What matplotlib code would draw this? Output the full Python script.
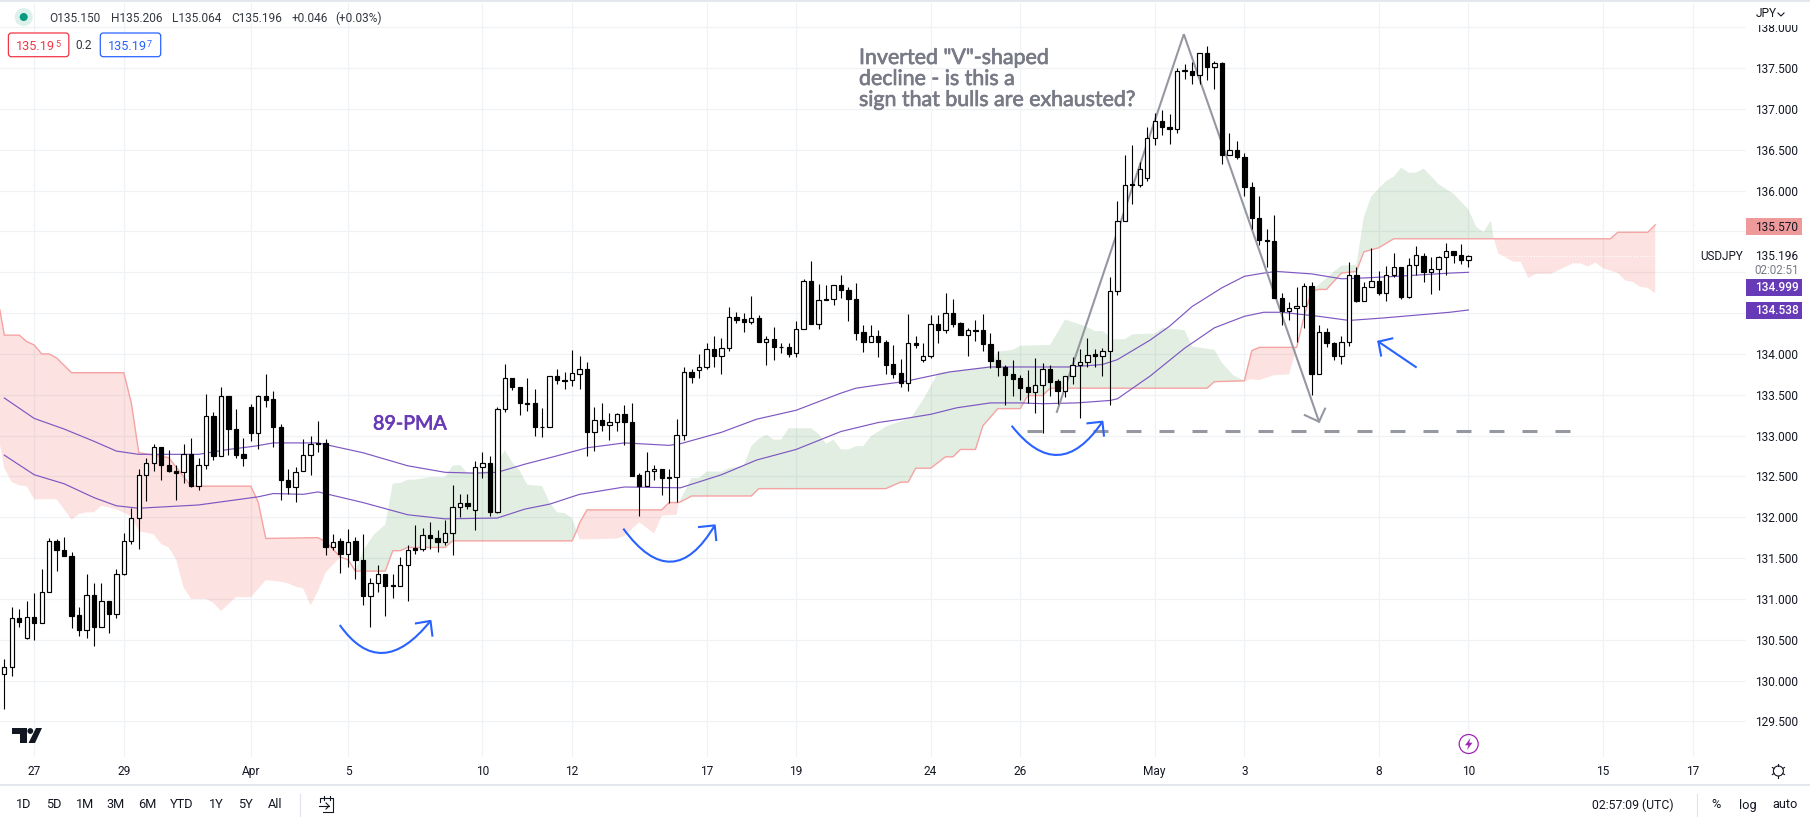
#!/usr/bin/env python3
# -*- coding: utf-8 -*-

import numpy as np
import matplotlib
matplotlib.use('Agg')
import matplotlib.pyplot as plt
import matplotlib.patheffects as pe
from matplotlib.patches import Circle, FancyBboxPatch, PathPatch, Polygon, Rectangle
from matplotlib.path import Path

# 4h candles, one entry per bar
opens = [130.08, 130.17, 130.77, 130.52, 130.78, 130.71, 131.08, 131.71, 131.60, 131.53,
         130.80, 130.62, 131.05, 130.66, 130.97, 130.82, 131.30, 131.71, 131.99, 132.52,
         132.66, 132.86, 132.64, 132.57, 132.55, 132.77, 132.38, 132.64, 133.24, 132.75,
         133.49, 133.08, 132.77, 133.35, 133.03, 133.48, 133.45, 133.11, 132.46, 132.37,
         132.56, 132.76, 132.91, 132.91, 131.63, 131.71, 131.55, 131.71, 131.47, 131.03,
         131.19, 131.31, 131.17, 131.16, 131.42, 131.62, 131.61, 131.78, 131.75, 131.70,
         131.81, 132.13, 132.17, 132.09, 132.61, 132.67, 132.07, 133.33, 133.70, 133.59,
         133.40, 133.40, 133.11, 133.10, 133.73, 133.68, 133.68, 133.75, 133.82, 133.04,
         133.19, 133.13, 133.16, 133.27, 133.17, 132.52, 132.38, 132.56, 132.59, 132.49,
         132.49, 133.01, 133.78, 133.80, 133.84, 134.06, 133.97, 134.07, 134.45, 134.43,
         134.39, 134.44, 134.14, 134.18, 134.09, 134.08, 134.01, 134.31, 134.89, 134.37,
         134.67, 134.67, 134.84, 134.78, 134.67, 134.27, 134.15, 134.22, 134.15, 133.88,
         133.77, 133.64, 134.13, 133.92, 133.97, 134.37, 134.29, 134.50, 134.38, 134.23,
         134.29, 134.29, 134.12, 133.92, 133.84, 133.75, 133.70, 133.59, 133.53, 133.62,
         133.82, 133.67, 133.54, 133.73, 133.87, 133.90, 134.00, 133.97, 134.04, 134.77,
         135.63, 136.08, 136.07, 136.16, 136.65, 136.85, 136.78, 136.75, 137.47, 137.47,
         137.42, 137.68, 137.51, 137.56, 136.44, 136.50, 136.41, 136.05, 135.66, 135.39,
         135.38, 134.68, 134.52, 134.56, 134.59, 134.83, 133.75, 134.27, 134.13, 133.97,
         134.14, 134.97, 134.65, 134.82, 134.89, 134.74, 134.97, 135.06, 134.70, 135.09,
         135.20, 135.00, 135.04, 135.19, 135.26, 135.21, 135.150]
closes = [130.17, 130.77, 130.72, 130.78, 130.71, 131.08, 131.71, 131.60, 131.53, 130.79,
          130.62, 131.05, 130.66, 130.97, 130.82, 131.31, 131.71, 131.99, 132.52, 132.66,
          132.86, 132.64, 132.57, 132.54, 132.77, 132.38, 132.64, 133.24, 132.75, 133.49,
          133.08, 132.76, 132.72, 133.03, 133.48, 133.44, 133.10, 132.46, 132.37, 132.55,
          132.76, 132.90, 132.90, 131.63, 131.70, 131.55, 131.70, 131.47, 131.03, 131.19,
          131.31, 131.16, 131.16, 131.42, 131.60, 131.60, 131.78, 131.75, 131.70, 131.81,
          132.13, 132.17, 132.14, 132.61, 132.67, 132.07, 133.33, 133.70, 133.59, 133.40,
          133.39, 133.10, 133.10, 133.73, 133.68, 133.67, 133.77, 133.81, 133.04, 133.19,
          133.13, 133.17, 133.27, 133.16, 132.51, 132.38, 132.56, 132.59, 132.48, 132.48,
          133.01, 133.78, 133.72, 133.84, 134.06, 133.97, 134.07, 134.45, 134.42, 134.39,
          134.44, 134.14, 134.18, 134.09, 134.08, 134.00, 134.31, 134.89, 134.37, 134.66,
          134.66, 134.84, 134.78, 134.67, 134.26, 134.15, 134.22, 134.14, 133.87, 133.76,
          133.64, 134.13, 134.11, 133.97, 134.37, 134.29, 134.50, 134.37, 134.23, 134.29,
          134.28, 134.12, 133.91, 133.84, 133.74, 133.69, 133.58, 133.53, 133.62, 133.82,
          133.66, 133.54, 133.73, 133.87, 133.90, 133.99, 133.97, 134.04, 134.77, 135.63,
          136.07, 136.07, 136.27, 136.65, 136.85, 136.78, 136.75, 137.47, 137.48, 137.42,
          137.68, 137.51, 137.56, 136.44, 136.50, 136.41, 136.05, 135.66, 135.39, 135.38,
          134.68, 134.52, 134.56, 134.59, 134.83, 133.75, 134.27, 134.13, 133.97, 134.14,
          134.97, 134.65, 134.82, 134.89, 134.74, 134.97, 135.06, 134.70, 135.09, 135.21,
          135.00, 135.04, 135.19, 135.26, 135.21, 135.15, 135.196]
highs = [130.26, 130.90, 130.87, 130.98, 131.07, 131.37, 131.75, 131.73, 131.76, 131.57,
         130.90, 131.30, 131.19, 131.19, 130.97, 131.36, 131.81, 132.11, 132.59, 132.73,
         132.90, 132.86, 132.82, 132.64, 132.90, 132.97, 132.73, 133.51, 133.29, 133.60,
         133.49, 133.32, 132.97, 133.39, 133.50, 133.76, 133.54, 133.14, 132.59, 132.61,
         132.96, 132.99, 133.18, 132.96, 131.79, 131.74, 131.85, 131.76, 131.79, 131.25,
         131.42, 131.31, 131.30, 131.51, 131.66, 131.91, 131.87, 131.94, 131.84, 131.96,
         132.39, 132.29, 132.28, 132.69, 132.80, 132.75, 133.35, 133.88, 133.70, 133.59,
         133.70, 133.57, 133.34, 133.73, 133.81, 133.78, 134.05, 133.97, 133.90, 133.35,
         133.40, 133.28, 133.28, 133.37, 133.40, 132.54, 132.80, 132.64, 132.59, 132.59,
         133.20, 133.84, 133.82, 134.00, 134.13, 134.22, 134.19, 134.58, 134.51, 134.50,
         134.71, 134.48, 134.22, 134.33, 134.13, 134.13, 134.40, 134.92, 135.14, 134.86,
         134.84, 134.85, 134.97, 134.82, 134.87, 134.35, 134.35, 134.29, 134.17, 134.11,
         133.94, 134.49, 134.22, 134.13, 134.48, 134.48, 134.74, 134.67, 134.39, 134.32,
         134.42, 134.49, 134.26, 134.04, 133.87, 133.92, 133.74, 133.80, 133.95, 133.89,
         133.86, 133.69, 133.73, 133.96, 134.06, 134.20, 134.06, 134.07, 134.94, 135.87,
         136.43, 136.56, 136.35, 136.78, 136.95, 136.99, 136.94, 137.50, 137.55, 137.58,
         137.69, 137.77, 137.59, 137.57, 136.70, 136.61, 136.46, 136.11, 135.94, 135.53,
         135.70, 134.74, 134.63, 134.82, 134.87, 134.88, 134.36, 134.32, 134.14, 134.22,
         135.12, 135.06, 134.88, 135.30, 135.01, 135.08, 135.23, 135.06, 135.17, 135.32,
         135.23, 135.19, 135.20, 135.36, 135.26, 135.34, 135.206]
lows = [129.65, 130.06, 130.66, 130.51, 130.50, 130.71, 131.08, 131.34, 131.53, 130.64,
        130.55, 130.52, 130.42, 130.66, 130.58, 130.77, 131.29, 131.67, 131.61, 132.20,
        132.57, 132.46, 132.55, 132.21, 132.42, 132.37, 132.33, 132.59, 132.70, 132.75,
        132.76, 132.72, 132.63, 132.93, 132.83, 133.35, 132.86, 132.21, 132.28, 132.19,
        132.56, 132.52, 132.80, 131.54, 131.60, 131.32, 131.39, 131.24, 130.92, 130.65,
        131.09, 130.79, 131.01, 131.16, 130.98, 131.55, 131.59, 131.61, 131.58, 131.66,
        131.54, 132.00, 132.10, 131.84, 132.48, 132.02, 132.05, 133.29, 133.56, 133.25,
        133.30, 133.00, 132.98, 133.10, 133.63, 133.57, 133.61, 133.57, 132.75, 132.81,
        133.05, 132.95, 133.05, 132.89, 132.50, 132.02, 132.38, 132.45, 132.27, 132.18,
        132.19, 132.95, 133.64, 133.71, 133.81, 133.84, 133.75, 134.03, 134.38, 134.27,
        134.37, 134.14, 133.87, 133.92, 134.01, 133.96, 133.96, 134.31, 134.37, 134.30,
        134.66, 134.60, 134.68, 134.40, 134.17, 134.02, 134.15, 133.96, 133.76, 133.70,
        133.60, 133.55, 134.07, 133.90, 133.95, 134.13, 134.25, 134.33, 134.23, 133.98,
        134.16, 134.03, 133.83, 133.73, 133.38, 133.49, 133.44, 133.40, 133.28, 133.03,
        133.48, 133.39, 133.47, 133.63, 133.21, 133.84, 133.84, 133.73, 133.38, 134.72,
        135.63, 135.84, 136.05, 136.12, 136.56, 136.68, 136.57, 136.71, 137.37, 137.30,
        137.31, 137.36, 137.25, 136.32, 136.43, 136.39, 135.93, 135.53, 135.33, 135.07,
        134.68, 134.35, 134.41, 134.15, 134.32, 133.50, 133.75, 134.08, 133.92, 133.88,
        134.10, 134.63, 134.65, 134.82, 134.72, 134.65, 134.94, 134.67, 134.69, 134.97,
        134.88, 134.73, 134.78, 134.97, 135.11, 135.10, 135.064]

# price scale and time scale (135.000 and 135.500 sit behind the value labels)
y_ticks = [129.5, 130.0, 130.5, 131.0, 131.5, 132.0, 132.5, 133.0, 133.5,
           134.0, 134.5, 135.0, 135.5, 136.0, 136.5, 137.0, 137.5, 138.0]
y_hidden_labels = [135.0, 135.5]
x_tick_bars = [4, 16, 33, 46, 64, 76, 94, 106, 124, 136, 154, 166, 184, 196, 214, 226]
x_tick_labels = ['27', '29', 'Apr', '5', '10', '12', '17', '19', '24', '26',
                 'May', '3', '8', '10', '15', '17']

# moving averages, read at the bars where they bend
ma_fast_x = [0, 4, 8, 12, 15, 18, 26, 30, 33.5, 36, 38.3, 42, 48, 54, 59, 63, 66, 69.7,
             73.5, 78, 83, 89, 90.5, 96, 100.7, 106, 112, 114, 117, 120.4, 124, 126.6,
             132, 138.2, 142.7, 147, 149, 153.4, 156, 159, 163, 166, 168.6, 170.3, 175,
             179, 182, 186.4, 193.5, 196]
ma_fast = [133.46, 133.21, 133.08, 132.93, 132.81, 132.77, 132.77, 132.83, 132.87, 132.91,
           132.91, 132.91, 132.79, 132.63, 132.55, 132.54, 132.55, 132.65, 132.74, 132.85,
           132.91, 132.88, 132.90, 133.04, 133.20, 133.31, 133.52, 133.58, 133.62, 133.66,
           133.73, 133.78, 133.84, 133.84, 133.84, 133.87, 133.93, 134.17, 134.34, 134.58,
           134.81, 134.95, 134.99, 135.01, 134.98, 134.92, 134.93, 134.95, 134.99, 134.999]
ma_slow_x = [0, 4, 8, 12, 15, 18, 26, 34, 36, 40, 42, 48, 54, 59, 66, 69.7, 73, 77, 83,
             90.5, 96, 100.7, 106, 109, 112, 117, 120, 124, 127.5, 132, 136, 139, 143.6,
             148, 149, 153.4, 158, 162, 166, 168.6, 171, 176, 180, 184.6, 193.5, 196]
ma_slow = [132.76, 132.52, 132.41, 132.24, 132.14, 132.11, 132.15, 132.25, 132.29, 132.28,
           132.31, 132.18, 132.03, 131.98, 131.99, 132.10, 132.16, 132.28, 132.37, 132.36,
           132.52, 132.70, 132.83, 132.94, 133.05, 133.16, 133.20, 133.26, 133.34, 133.40,
           133.40, 133.39, 133.40, 133.43, 133.45, 133.73, 134.07, 134.32, 134.46, 134.51,
           134.51, 134.46, 134.41, 134.44, 134.51, 134.538]

# ichimoku cloud edges
span_a_x = [-0.6, 0, 1, 2, 3, 4, 7, 9, 10, 11, 12, 13, 15, 17, 18, 20, 21, 22, 23, 24, 25,
            27, 28, 29, 31, 33, 35, 37, 38, 39, 40, 41, 42, 43, 44, 45, 46, 47, 48, 49.5,
            51, 52, 53, 54, 55, 57, 59, 60, 61, 62, 65, 66, 67, 68, 69, 70, 72, 73, 74,
            75, 76, 76.6, 77, 79, 82, 83, 85, 87, 88, 90, 90.3, 92, 93, 94, 96, 97, 99,
            100, 101, 102, 103, 104, 105, 108, 109, 110, 111, 112, 113, 114, 115, 116,
            118, 121.4, 123, 125, 127, 132, 133, 135, 136, 140, 142, 144.7, 146, 147,
            148.5, 150, 151, 154, 155, 158, 159, 162, 163, 164.5, 166, 167, 168, 170,
            172, 173, 174, 175, 175.7, 177, 178, 179, 181, 182, 183, 185, 186, 187, 188,
            189, 190, 192, 194, 196, 197, 198, 199, 199.4, 200, 202, 203, 204, 205, 207,
            210, 211, 212, 213, 214, 216, 217, 218, 219, 220, 221]
span_a = [132.90, 132.60, 132.43, 132.39, 132.38, 132.22, 132.22, 131.97, 132.04, 132.06,
          132.06, 132.14, 132.10, 132.01, 131.83, 131.79, 131.67, 131.63, 131.48, 131.14,
          131.00, 131.00, 130.95, 130.85, 131.02, 131.02, 131.23, 131.21, 131.19, 131.15,
          131.13, 130.92, 131.10, 131.32, 131.42, 131.51, 131.48, 131.34, 131.59, 131.79,
          131.91, 132.41, 132.42, 132.46, 132.46, 132.49, 132.49, 132.63, 132.64, 132.54,
          132.57, 132.67, 132.82, 132.67, 132.57, 132.40, 132.38, 132.18, 132.06, 132.05,
          131.99, 131.83, 131.73, 131.73, 131.74, 131.77, 131.94, 131.80, 132.02, 132.03,
          132.18, 132.48, 132.48, 132.56, 132.56, 132.60, 132.63, 132.87, 132.96, 133.01,
          132.95, 132.95, 133.09, 133.09, 133.02, 132.90, 132.95, 132.83, 132.83, 132.87,
          132.87, 132.99, 133.11, 133.22, 133.44, 133.77, 133.79, 133.85, 134.03, 134.05,
          134.10, 134.11, 134.42, 134.34, 134.28, 134.28, 134.18, 134.18, 134.24, 134.25,
          134.32, 134.29, 134.09, 134.05, 133.89, 133.74, 133.67, 133.69, 133.68, 133.74,
          133.75, 134.08, 134.46, 134.78, 134.83, 134.93, 135.01, 135.08, 135.09, 135.68,
          135.93, 136.12, 136.17, 136.28, 136.22, 136.22, 136.27, 136.08, 135.96, 135.77,
          135.56, 135.49, 135.63, 135.41, 135.23, 135.13, 135.13, 134.93, 134.98, 134.98,
          135.11, 135.11, 135.07, 135.12, 135.05, 134.99, 134.90, 134.88, 134.82, 134.81,
          134.74]
span_b_x = [-0.6, 0, 2, 3, 4, 5, 6, 7, 9, 16, 17, 18, 22, 25, 33, 34, 35, 42, 43, 44, 45,
            46, 47, 51, 52, 53, 54, 59, 60, 76, 76.6, 77, 78, 88, 89, 90, 90.3, 91, 92,
            100, 101, 118, 120, 121, 122, 124, 126, 127, 128, 130, 131, 133, 136, 137,
            139, 140, 161, 162, 166, 167, 168, 173, 174, 175, 176, 177, 179, 181, 182,
            184, 186, 199.4, 215, 216, 220, 221]
span_b = [134.54, 134.23, 134.23, 134.15, 134.11, 134.00, 134.00, 133.95, 133.77, 133.77,
          133.40, 132.79, 132.73, 132.38, 132.38, 132.18, 131.74, 131.75, 131.70, 131.61,
          131.51, 131.48, 131.34, 131.34, 131.59, 131.59, 131.63, 131.63, 131.71, 131.71,
          131.83, 131.93, 132.09, 132.09, 132.18, 132.18, 132.18, 132.21, 132.26, 132.26,
          132.35, 132.35, 132.43, 132.43, 132.60, 132.60, 132.74, 132.74, 132.83, 132.83,
          133.12, 133.33, 133.33, 133.49, 133.49, 133.58, 133.58, 133.66, 133.67, 134.04,
          134.08, 134.08, 134.46, 134.77, 134.79, 134.79, 134.99, 135.01, 135.25, 135.30,
          135.41, 135.41, 135.41, 135.49, 135.49, 135.58]
# bars where the two edges cross, and the fill between each pair
cloud_breaks = [-0.6, 47, 76.6, 90.3, 166, 173, 199.4, 221]
cloud_colors = ['#ef5350', '#388e3c', '#ef5350', '#388e3c', '#ef5350', '#388e3c', '#ef5350']

# hand drawn annotations
v_line_x = [140.9, 157.9, 176.0]
v_line_y = [133.29, 137.915, 133.17]
v_head_x = [174.1, 176.0, 176.8]
v_head_y = [133.25, 133.17, 133.33]
support_x = [136.9, 209.7]
support_y = [133.05, 133.05]
arc_x = [[44.9, 50.4, 57.05], [82.86, 89.5, 95.1], [134.85, 141.2, 147.0]]
arc_y = [[130.68, 129.97, 130.73], [131.86, 131.03, 131.90], [133.12, 132.38, 133.17]]
arc_head_x = [[55.1, 57.05, 57.3], [93.0, 95.1, 95.3], [145.0, 147.0, 147.2]]
arc_head_y = [[130.70, 130.73, 130.55], [131.88, 131.90, 131.72], [133.15, 133.17, 133.00]]
pointer_x = [188.95, 183.95]
pointer_y = [133.84, 134.15]
pointer_head_x = [185.8, 183.95, 184.3]
pointer_head_y = [134.19, 134.15, 133.98]

# legend row
legend_texts = ['O135.150', 'H135.206', 'L135.064', 'C135.196', '+0.046', '(+0.03%)']
range_labels = ['1D', '5D', '1M', '3M', '6M', 'YTD', '1Y', '5Y', 'All']

INK = '#131722'
GRID = '#f0f3f6'
PURPLE = '#673ab7'
FONT = 'Roboto'
WIDTH, HEIGHT = 1810, 823
BAR_STEP = 7.47
BAR_ZERO = 4.33
PANE_RIGHT, PANE_TOP, PANE_BOTTOM = 1746, 3, 757


def price_at(pixel_y):
    return 138 - (pixel_y - 27.3) * 0.012247


def bar_at(pixel_x):
    return (pixel_x - BAR_ZERO) / BAR_STEP


def draw_candles(ax):
    x = np.arange(len(opens))
    o, c = np.array(opens), np.array(closes)
    ax.vlines(x, lows, highs, color='black', lw=0.8, zorder=4)
    top, bottom = np.maximum(o, c), np.minimum(o, c)
    colors = ['white' if up else 'black' for up in c >= o]
    ax.bar(x, top - bottom, bottom=bottom, width=0.58, color=colors,
           edgecolor='black', linewidth=0.85, zorder=5)


def draw_cloud(ax):
    ax_x, ax_y = np.array(span_a_x), np.array(span_a)
    bx_x, bx_y = np.array(span_b_x), np.array(span_b)
    for start, end, color in zip(cloud_breaks[:-1], cloud_breaks[1:], cloud_colors):
        a = (ax_x >= start) & (ax_x <= end)
        b = (bx_x >= start) & (bx_x <= end)
        ax.fill(np.r_[ax_x[a], bx_x[b][::-1]], np.r_[ax_y[a], bx_y[b][::-1]],
                color=color, alpha=0.17 if color == '#ef5350' else 0.15, lw=0, zorder=1)
    ax.plot(span_b_x, span_b, color='#f5a3a3', lw=1.0, zorder=2)


def draw_annotations(ax):
    gray = '#9598a1'
    ax.plot(v_line_x, v_line_y, color=gray, lw=1.5, zorder=3, solid_joinstyle='miter')
    ax.plot(v_head_x, v_head_y, color=gray, lw=1.5, zorder=3)
    ax.plot(support_x, support_y, color=gray, lw=2.2, zorder=3,
            linestyle=(0, (4.9, 5.9)), dash_capstyle='butt')
    blue = '#2962ff'
    for xs, ys, hx, hy in zip(arc_x, arc_y, arc_head_x, arc_head_y):
        path = Path(list(zip(xs, ys)), [Path.MOVETO, Path.CURVE3, Path.CURVE3])
        ax.add_patch(PathPatch(path, fill=False, edgecolor=blue, lw=1.5, zorder=6))
        ax.plot(hx, hy, color=blue, lw=1.5, zorder=6)
    ax.plot(pointer_x, pointer_y, color=blue, lw=1.5, zorder=6)
    ax.plot(pointer_head_x, pointer_head_y, color=blue, lw=1.5, zorder=6)
    # the drawn labels are a bit heavier than Lato regular
    heavier = [pe.withStroke(linewidth=0.5, foreground='#787b86')]
    for y, s in zip([58, 79, 100], ['Inverted "V"-shaped', 'decline - is this a',
                                    'sign that bulls are exhausted?']):
        ax.text(bar_at(859), price_at(y), s, color='#787b86', fontsize=15.4, family='Lato',
                va='center', zorder=7, path_effects=heavier)
    ax.text(bar_at(373), price_at(424), '89-PMA', color=PURPLE, fontsize=14.2, family='Lato',
            va='center', zorder=7, path_effects=[pe.withStroke(linewidth=0.5, foreground=PURPLE)])


def ui_text(ui, x, y, s, ha='left', size=8.4, color=INK, **kwargs):
    ui.text(x, y, s, ha=ha, va='center', fontsize=size, color=color, family=FONT, **kwargs)


def draw_chrome(ui):
    # thin rules
    ui.plot([0, WIDTH], [0.5, 0.5], color='#e0e3eb', lw=1.2)
    ui.plot([0, WIDTH], [785, 785], color='#e0e3eb', lw=1.2)
    ui.plot([300.4, 300.4], [794, 816], color='#e0e3eb', lw=0.8)
    ui.plot([1697, 1697], [794, 816], color='#e0e3eb', lw=0.8)

    # legend
    ui.add_patch(Circle((23.7, 17), 9, color='#dcf1ec', lw=0))
    ui.add_patch(Circle((23.7, 17), 4, color='#089981', lw=0))
    for x, s in zip([49, 111, 172.2, 231, 291.6, 335], legend_texts):
        ui_text(ui, x, 18, s, size=8.6, color='#333740')
    for x0, color, main, small in [(8.4, '#f23645', '135.19', '5'), (100.3, '#2962ff', '135.19', '7')]:
        ui.add_patch(FancyBboxPatch((x0, 33), 60.4, 23.7, boxstyle='round,pad=0,rounding_size=3',
                                    fc='white', ec=color, lw=0.9))
        ui_text(ui, x0 + 8, 46, main, size=9.2, color=color)
        ui_text(ui, x0 + 46.8, 44, small, size=6.4, color=color)
    ui_text(ui, 84, 45, '0.2', ha='center', size=8.6, color='#333740')

    # price scale labels
    ui.add_patch(Rectangle((PANE_RIGHT, 0.8), 64, 24.5, fc='white', ec='none'))
    ui_text(ui, 1756, 13.5, 'JPY', size=8.6)
    ui.plot([1778, 1781, 1784], [13, 16, 13], color=INK, lw=0.8)
    ui.add_patch(Rectangle((PANE_RIGHT, 218.3), 55.7, 16.7, fc='#ef9a9a', ec='none'))
    ui_text(ui, 1755, 227, '135.570', size=8.6)
    ui_text(ui, 1700, 256.5, 'USDJPY', size=8.4)
    ui_text(ui, 1755, 256.5, '135.196', size=8.6)
    ui_text(ui, 1754, 271, '02:02:51', size=8.4, color='#787b86')
    for y0, s in [(279.3, '134.999'), (302, '134.538')]:
        ui.add_patch(Rectangle((PANE_RIGHT, y0), 55.7, 17, fc=PURPLE, ec='none'))
        ui_text(ui, 1755, y0 + 8.6, s, size=8.6, color='white', fontweight='medium')

    # bottom toolbar
    for x, s in zip([23.7, 54, 85, 116, 147.3, 181.8, 216, 245.3, 275], range_labels):
        ui_text(ui, x, 805, s, ha='center', size=9.2)
    ui_text(ui, 1632.8, 805, '02:57:09 (UTC)', ha='center', size=8.8)
    ui_text(ui, 1716.4, 805, '%', ha='center', size=9.2)
    ui_text(ui, 1747.4, 805, 'log', ha='center', size=9.2)
    ui_text(ui, 1785, 805, 'auto', ha='center', size=9.2)

    # calendar icon
    ui.plot([320, 320, 333, 333, 323], [802, 798, 798, 812, 812], color=INK, lw=0.8)
    ui.plot([319, 329], [806, 806], color=INK, lw=0.8)
    ui.plot([326, 329, 326], [803, 806, 809], color=INK, lw=0.8)
    ui.plot([324, 324], [796, 800], color=INK, lw=0.8)
    ui.plot([330, 330], [796, 800], color=INK, lw=0.8)

    # settings gear
    ui.add_patch(Circle((1778.4, 771), 5, fill=False, ec=INK, lw=0.8))
    for angle in np.arange(0, 360, 60) + 30:
        dx, dy = np.cos(np.radians(angle)), np.sin(np.radians(angle))
        ui.plot([1778.4 + 5 * dx, 1778.4 + 7 * dx], [771 + 5 * dy, 771 + 7 * dy], color=INK, lw=0.8)

    # lightning badge
    ui.add_patch(Circle((1468.7, 744), 9.5, fill=False, ec='#9c27b0', lw=0.9))
    ui.add_patch(Polygon([(1470.5, 738), (1465, 745.3), (1468.4, 745.3), (1467, 750),
                          (1472.5, 742.7), (1469.2, 742.7)], fc='#9c27b0', ec='none'))

    # logo
    ui.add_patch(Polygon([(11.5, 728), (26.8, 728), (26.8, 743), (19.5, 743), (19.5, 734), (11.5, 734)],
                         fc=INK, ec='none'))
    ui.add_patch(Circle((30.3, 731), 2.9, fc=INK, ec='none'))
    ui.add_patch(Polygon([(36, 728), (42, 728), (35, 743), (28.5, 743)], fc=INK, ec='none'))


if __name__ == '__main__':

    fig = plt.figure(figsize=(WIDTH / 100, HEIGHT / 100), dpi=100, facecolor='white')
    ax = fig.add_axes([0, (HEIGHT - PANE_BOTTOM) / HEIGHT, PANE_RIGHT / WIDTH,
                       (PANE_BOTTOM - PANE_TOP) / HEIGHT])
    ax.set_xlim(bar_at(0), bar_at(PANE_RIGHT))
    ax.set_ylim(price_at(PANE_BOTTOM), price_at(PANE_TOP))

    for side in ax.spines.values():
        side.set_visible(False)
    ax.yaxis.tick_right()
    ax.set_yticks(y_ticks)
    ax.set_yticklabels(['' if p in y_hidden_labels else '{:.3f}'.format(p) for p in y_ticks],
                       family=FONT, fontsize=8.6, color=INK)
    ax.set_xticks(x_tick_bars)
    ax.set_xticklabels(x_tick_labels, family=FONT, fontsize=8.6, color=INK)
    ax.tick_params(axis='y', length=0, pad=6.5)
    ax.tick_params(axis='x', length=0, pad=6)
    ax.grid(True, color=GRID, lw=0.9)
    ax.set_axisbelow(True)

    draw_cloud(ax)
    ax.plot(ma_fast_x, ma_fast, color='#7e57c2', lw=0.85, zorder=3)
    ax.plot(ma_slow_x, ma_slow, color='#7e57c2', lw=0.85, zorder=3)
    draw_annotations(ax)
    draw_candles(ax)
    ax.plot([200, 221], [135.196, 135.196], color='white', lw=0.8, ls=':', zorder=3)

    ui = fig.add_axes([0, 0, 1, 1], facecolor='none')
    ui.set_xlim(0, WIDTH)
    ui.set_ylim(HEIGHT, 0)
    ui.axis('off')
    draw_chrome(ui)

    fig.savefig('out.png', dpi=100)
